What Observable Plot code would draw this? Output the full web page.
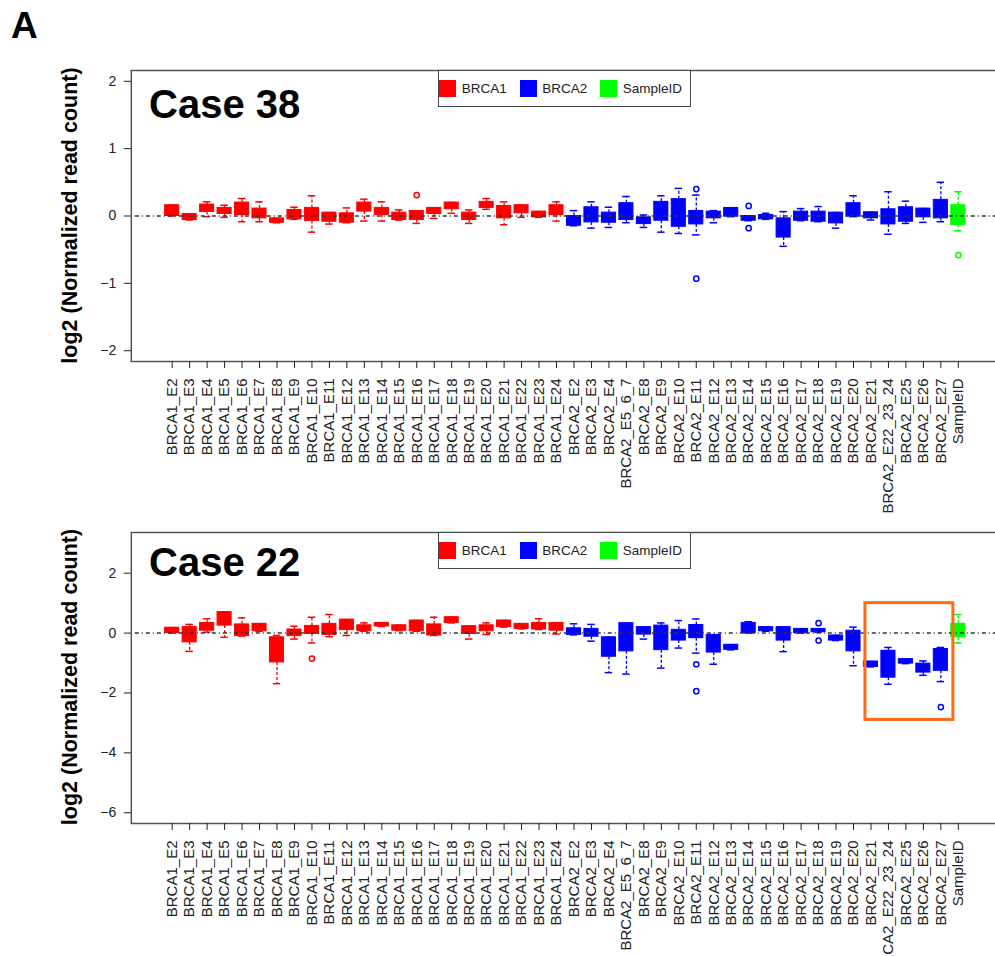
<!DOCTYPE html>
<html>
<head>
<meta charset="utf-8">
<script src="https://cdn.jsdelivr.net/npm/d3@7"></script>
<script src="https://cdn.jsdelivr.net/npm/@observablehq/plot@0.6"></script>
<style>
html, body { margin: 0; padding: 0; background: #fff; overflow: hidden; width: 995px; height: 956px; }
#root { position: relative; width: 995px; height: 956px; font-family: "Liberation Sans", Arial, sans-serif; }
.panel { position: absolute; left: 0; }
.legend { position: absolute; box-sizing: border-box; border: 1.5px solid #444; background: #fff;
  display: flex; align-items: center; padding-left: 0.5px; font-size: 13.5px; color: #222; }
.legend .item { display: flex; align-items: center; margin-right: 13px; }
.legend .sw { width: 17px; height: 17px; margin-right: 5.5px; }
#overlay { position: absolute; left: 0; top: 0; pointer-events: none; }
</style>
</head>
<body>
<div id="root"></div>
<script>
// ---------- categories ----------
const brca1Exons = ["BRCA1_E2","BRCA1_E3","BRCA1_E4","BRCA1_E5","BRCA1_E6","BRCA1_E7","BRCA1_E8","BRCA1_E9",
  "BRCA1_E10","BRCA1_E11","BRCA1_E12","BRCA1_E13","BRCA1_E14","BRCA1_E15","BRCA1_E16","BRCA1_E17",
  "BRCA1_E18","BRCA1_E19","BRCA1_E20","BRCA1_E21","BRCA1_E22","BRCA1_E23","BRCA1_E24"];
const brca2Exons = ["BRCA2_E2","BRCA2_E3","BRCA2_E4","BRCA2_E5_6_7","BRCA2_E8","BRCA2_E9","BRCA2_E10",
  "BRCA2_E11","BRCA2_E12","BRCA2_E13","BRCA2_E14","BRCA2_E15","BRCA2_E16","BRCA2_E17","BRCA2_E18",
  "BRCA2_E19","BRCA2_E20","BRCA2_E21","BRCA2_E22_23_24","BRCA2_E25","BRCA2_E26","BRCA2_E27"];
const sampleCats = ["SampleID"];
const categories = [...brca1Exons, ...brca2Exons, ...sampleCats];

const groups = ["BRCA1", "BRCA2", "SampleID"];
const groupColors = ["#ff0000", "#0000ff", "#00ff00"];

// ---------- Case 38 ----------
const case38Q1 = [0.00,-0.06,0.06,0.03,0.015,-0.035,-0.10,-0.05,-0.075,-0.085,-0.10,0.065,0.015,-0.06,-0.06,0.03,0.10,-0.06,0.12,-0.035,0.04,-0.02,0.015,
  -0.145,-0.095,-0.10,-0.06,-0.12,-0.07,-0.16,-0.125,-0.035,-0.01,-0.07,-0.05,-0.32,-0.07,-0.085,-0.11,-0.01,-0.035,-0.125,-0.085,-0.02,-0.035,
  -0.135];
const case38Q3 = [0.16,0.03,0.17,0.12,0.20,0.11,-0.035,0.09,0.12,0.05,0.04,0.20,0.12,0.05,0.075,0.12,0.20,0.05,0.21,0.15,0.16,0.065,0.16,
  0.00,0.13,0.05,0.19,-0.02,0.21,0.25,0.075,0.065,0.12,0.00,0.015,-0.035,0.065,0.065,0.05,0.19,0.055,0.10,0.13,0.11,0.24,
  0.16];
const case38Lo = [0.00,-0.06,-0.01,-0.02,-0.085,-0.085,-0.10,-0.05,-0.24,-0.12,-0.10,-0.075,-0.075,-0.06,-0.11,-0.035,0.04,-0.11,0.10,-0.13,-0.02,-0.02,-0.075,
  -0.145,-0.18,-0.17,-0.10,-0.17,-0.24,-0.26,-0.28,-0.10,-0.01,-0.07,-0.05,-0.45,-0.07,-0.085,-0.18,-0.01,-0.06,-0.27,-0.11,-0.095,-0.085,
  -0.22];
const case38Hi = [0.16,0.03,0.21,0.16,0.26,0.21,-0.035,0.13,0.30,0.05,0.12,0.25,0.21,0.09,0.075,0.12,0.20,0.09,0.26,0.21,0.16,0.065,0.21,
  0.08,0.21,0.13,0.29,0.015,0.30,0.41,0.31,0.08,0.12,0.00,0.04,0.065,0.11,0.14,0.05,0.30,0.055,0.36,0.22,0.11,0.50,
  0.36];
const case38Outliers = [["BRCA1_E16",0.31],["BRCA2_E11",0.40],["BRCA2_E11",-0.93],["BRCA2_E14",0.15],["BRCA2_E14",-0.18],["SampleID",-0.58]];

// ---------- Case 22 ----------
const case22Q1 = [0.00,-0.31,0.08,0.25,-0.10,0.06,-0.98,-0.10,-0.03,-0.06,0.10,0.06,0.22,0.08,0.06,-0.08,0.34,-0.03,0.06,0.20,0.14,0.12,0.08,
  -0.06,-0.12,-0.79,-0.61,-0.05,-0.57,-0.25,-0.17,-0.65,-0.56,0.00,0.06,-0.25,0.00,0.03,-0.25,-0.61,-1.13,-1.49,-1.02,-1.32,-1.26,
  -0.14];
const case22Q3 = [0.18,0.20,0.34,0.70,0.29,0.31,-0.14,0.12,0.24,0.31,0.45,0.26,0.34,0.26,0.42,0.29,0.53,0.23,0.26,0.42,0.31,0.34,0.34,
  0.16,0.14,-0.14,0.33,0.20,0.25,0.11,0.27,-0.06,-0.39,0.34,0.20,0.20,0.14,0.14,-0.08,0.08,-0.95,-0.59,-0.87,-1.02,-0.53,
  0.31];
const case22Lo = [0.00,-0.61,0.03,-0.14,-0.10,0.06,-1.69,-0.20,-0.33,-0.12,-0.08,0.06,0.22,0.08,0.06,-0.08,0.34,-0.20,-0.05,0.20,0.14,0.12,-0.03,
  -0.06,-0.27,-1.32,-1.37,-0.20,-1.17,-0.50,-0.67,-1.04,-0.56,0.00,0.06,-0.62,0.00,0.03,-0.25,-1.09,-1.13,-1.71,-1.02,-1.41,-1.62,
  -0.33];
const case22Hi = [0.18,0.29,0.48,0.70,0.51,0.31,-0.08,0.23,0.53,0.62,0.45,0.34,0.34,0.26,0.42,0.53,0.53,0.23,0.34,0.42,0.31,0.48,0.34,
  0.31,0.29,-0.14,0.33,0.20,0.34,0.42,0.47,-0.06,-0.39,0.38,0.20,0.20,0.14,0.14,-0.08,0.20,-0.95,-0.48,-0.87,-0.93,-0.48,
  0.62];
const case22Outliers = [["BRCA1_E10",-0.85],["BRCA2_E11",-1.04],["BRCA2_E11",-1.94],["BRCA2_E18",0.33],["BRCA2_E18",-0.25],["BRCA2_E27",-2.47]];
const case22Highlight = [{from: "BRCA2_E21", to: "BRCA2_E27", lo: -2.9, hi: 1.0}];

// ---------- axes ----------
const case38YTicks = [2, 1, 0, -1, -2];
const case38YDomain = [-2.16, 2.16];
const case22YTicks = [2, 0, -2, -4, -6];
const case22YDomain = [-6.36, 3.36];

const yTitle = "log2 (Normalized read count)";

function groupOf(c) {
  return c.startsWith("BRCA1") ? "BRCA1" : c.startsWith("BRCA2") ? "BRCA2" : "SampleID";
}

function makePanel(q1, q3, lo, hi, outliers, yDomain, yTicks, highlight) {
  const rows = categories.map((c, i) => ({cat: c, group: groupOf(c), q1: q1[i], q3: q3[i], lo: lo[i], hi: hi[i]}));
  const outl = outliers.map(([cat, v]) => ({cat, v, group: groupOf(cat)}));
  const marks = [
    Plot.ruleX(rows, {x: "cat", y1: "q3", y2: "hi", stroke: "group", strokeWidth: 1.3, strokeDasharray: "3,2"}),
    Plot.ruleX(rows, {x: "cat", y1: "q1", y2: "lo", stroke: "group", strokeWidth: 1.3, strokeDasharray: "3,2"}),
    Plot.tickY(rows, {x: "cat", y: "hi", stroke: "group", strokeWidth: 1.5, insetLeft: 5, insetRight: 5}),
    Plot.tickY(rows, {x: "cat", y: "lo", stroke: "group", strokeWidth: 1.5, insetLeft: 5, insetRight: 5}),
    Plot.barY(rows, {x: "cat", y1: "q1", y2: "q3", fill: "group", stroke: "group", strokeWidth: 1, insetLeft: 1.7, insetRight: 1.7}),
    Plot.dot(outl, {x: "cat", y: "v", stroke: "group", r: 2.6, strokeWidth: 1.5, fill: "white"}),
    Plot.ruleY([0], {stroke: "#333", strokeWidth: 1.5, strokeDasharray: "1,3,4,3"}),
    Plot.frame({stroke: "#555", strokeWidth: 1.5}),
    Plot.axisX({tickRotate: -90, fontSize: 15, tickSize: 7, tickPadding: 10, label: null, color: "#222"}),
    Plot.axisY({ticks: yTicks, tickFormat: d3.format("~g"), fontSize: 14, tickSize: 7, tickPadding: 8, label: null, color: "#222"})
  ];
  if (highlight) {
    marks.push(Plot.rect(highlight, {x1: "from", x2: "to", y1: "lo", y2: "hi", fill: "none",
      stroke: "#ff6a13", strokeWidth: 3, insetLeft: 3.2, insetRight: -3.8}));
  }
  return Plot.plot({
    width: 995, height: 520,
    marginLeft: 130.8, marginRight: -3.7, marginTop: 70, marginBottom: 159,
    style: {background: "transparent", overflow: "hidden", maxWidth: "none", fontFamily: "'Liberation Sans', Arial, sans-serif"},
    x: {type: "band", domain: categories, paddingInner: 0, paddingOuter: 1.84, align: 0.5, round: false},
    y: {domain: yDomain},
    color: {domain: groups, range: groupColors},
    marks
  });
}

const root = document.getElementById("root");

function addPanel(svg, top) {
  svg.classList.add("panel");
  svg.style.top = top + "px";
  root.appendChild(svg);
}

addPanel(makePanel(case38Q1, case38Q3, case38Lo, case38Hi, case38Outliers, case38YDomain, case38YTicks, null), 0);
addPanel(makePanel(case22Q1, case22Q3, case22Lo, case22Hi, case22Outliers, case22YDomain, case22YTicks, case22Highlight), 462);

// legends
function addLegend(top) {
  const lg = document.createElement("div");
  lg.className = "legend";
  lg.style.left = "437.7px";
  lg.style.top = top + "px";
  lg.style.width = "253px";
  lg.style.height = "37px";
  groups.forEach((g, i) => {
    const it = document.createElement("div");
    it.className = "item";
    const sw = document.createElement("div");
    sw.className = "sw";
    sw.style.background = groupColors[i];
    const tx = document.createElement("span");
    tx.textContent = g;
    it.appendChild(sw); it.appendChild(tx);
    lg.appendChild(it);
  });
  root.appendChild(lg);
}
addLegend(70);
addLegend(532);

// overlay text
const ov = d3.select(root).append("svg").attr("id", "overlay").attr("width", 995).attr("height", 956)
  .style("font-family", "'Liberation Sans', Arial, sans-serif");
ov.append("text").attr("x", 11).attr("y", 38).attr("font-size", 37).attr("font-weight", "bold").text("A");
ov.append("text").attr("x", 149).attr("y", 118).attr("font-size", 40).attr("font-weight", "bold").text("Case 38");
ov.append("text").attr("x", 149).attr("y", 576).attr("font-size", 40).attr("font-weight", "bold").text("Case 22");
[[215.5], [677]].forEach(([cy]) => {
  ov.append("text").attr("transform", `translate(77,${cy}) rotate(-90)`).attr("text-anchor", "middle")
    .attr("font-size", 21.5).attr("font-weight", "bold").text(yTitle);
});
</script>
</body>
</html>
